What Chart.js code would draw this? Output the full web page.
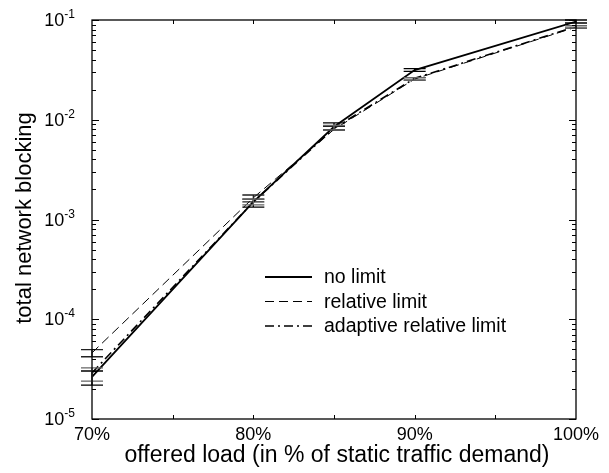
<!DOCTYPE html>
<html>
<head>
<meta charset="utf-8">
<script src="https://cdn.jsdelivr.net/npm/chart.js@4"></script>
<style>
html,body{margin:0;padding:0;background:#fff;}
#wrap{width:609px;height:473px;position:relative;}
</style>
</head>
<body>
<div id="wrap"><canvas id="c" width="609" height="473"></canvas></div>
<script>
// ---- data ----
const loads = [70, 80, 85, 90, 100];
const xTickLabels = ['70%', '80%', '90%', '100%'];
const yTickExponents = [-5, -4, -3, -2, -1];
const seriesNames = ['no limit', 'relative limit', 'adaptive relative limit'];
const noLimit   = [2.64e-5, 1.50e-3, 8.5e-3, 3.15e-2, 9.66e-2];
const relLimit  = [4.60e-5, 1.65e-3, 8.0e-3, 2.56e-2, 8.5e-2];
const adaptLimit= [2.90e-5, 1.50e-3, 8.2e-3, 2.60e-2, 8.6e-2];
const noLimitLo = [2.19e-5, 1.33e-3, 7.9e-3, 3.05e-2, 9.33e-2];
const noLimitHi = [3.03e-5, 1.60e-3, 9.3e-3, 3.26e-2, 1.00e-1];
const relLo     = [4.21e-5, 1.50e-3, 7.9e-3, 2.50e-2, 8.3e-2];
const relHi     = [4.95e-5, 1.76e-3, 8.6e-3, 2.65e-2, 8.8e-2];
const adaptLo   = [2.40e-5, 1.40e-3, 7.9e-3, 2.50e-2, 8.3e-2];
const adaptHi   = [3.25e-5, 1.60e-3, 8.8e-3, 2.65e-2, 8.8e-2];

const FONT = '"Liberation Sans", Arial, Helvetica, sans-serif';
const toPts = arr => loads.map((x, i) => ({x, y: arr[i]}));

const styles = [
  {w: 1.8, dash: []},
  {w: 1.0, dash: [9, 5]},
  {w: 1.6, dash: [9, 4, 2, 4]}
];
const errs = [[noLimitLo, noLimitHi, '#000'], [relLo, relHi, '#222'], [adaptLo, adaptHi, '#666']];

const decor = {
  id: 'decor',
  afterDatasetsDraw(chart) {
    const {ctx, chartArea: a, scales: {x, y}} = chart;
    ctx.save();
    // error bars
    errs.forEach(([lo, hi, col]) => {
      ctx.strokeStyle = col; ctx.lineWidth = 1.3; ctx.setLineDash([]);
      loads.forEach((l, i) => {
        const px = x.getPixelForValue(l);
        const y1 = y.getPixelForValue(lo[i]), y2 = y.getPixelForValue(hi[i]);
        ctx.beginPath();
        ctx.moveTo(px, y1); ctx.lineTo(px, y2);
        ctx.moveTo(px - 11, y1); ctx.lineTo(px + 11, y1);
        ctx.moveTo(px - 11, y2); ctx.lineTo(px + 11, y2);
        ctx.stroke();
      });
    });
    // frame
    ctx.strokeStyle = '#000'; ctx.lineWidth = 1.3;
    ctx.strokeRect(a.left, a.top, a.right - a.left, a.bottom - a.top);
    ctx.lineWidth = 1;
    // x ticks (every 5)
    for (let v = 75; v < 100; v += 5) {
      const px = Math.round(x.getPixelForValue(v)) + 0.5;
      ctx.beginPath();
      ctx.moveTo(px, a.bottom); ctx.lineTo(px, a.bottom - 4);
      ctx.moveTo(px, a.top); ctx.lineTo(px, a.top + 4);
      ctx.stroke();
    }
    // y ticks (log)
    for (let e = -5; e <= -1; e++) {
      for (let m = 1; m <= 9; m++) {
        const v = m * Math.pow(10, e);
        if (v > 0.1 * 1.0001) break;
        const py = Math.round(y.getPixelForValue(v)) + 0.5;
        const len = m === 1 ? 7 : 4;
        ctx.beginPath();
        ctx.moveTo(a.left, py); ctx.lineTo(a.left + len, py);
        ctx.moveTo(a.right, py); ctx.lineTo(a.right - len, py);
        ctx.stroke();
      }
    }
    // y tick labels with superscripts
    ctx.fillStyle = '#000';
    yTickExponents.forEach(e => {
      const py = y.getPixelForValue(Math.pow(10, e));
      ctx.font = '12px ' + FONT;
      const expTxt = String(e);
      const ew = ctx.measureText(expTxt).width;
      ctx.textAlign = 'left'; ctx.textBaseline = 'alphabetic';
      const expX = 75 - ew;
      ctx.fillText(expTxt, expX, py - 2);
      ctx.font = '18px ' + FONT;
      ctx.textAlign = 'right';
      ctx.fillText('10', expX, py + 6);
    });
    // x tick labels
    ctx.font = '18px ' + FONT;
    ctx.textAlign = 'center'; ctx.textBaseline = 'alphabetic';
    xTickLabels.forEach((t, i) => {
      const v = 70 + 10 * i;
      ctx.fillText(t, x.getPixelForValue(v), 440);
    });
    // axis titles
    ctx.font = '23px ' + FONT;
    ctx.fillText('offered load (in % of static traffic demand)', 337, 462);
    ctx.font = '22px ' + FONT;
    ctx.save();
    ctx.translate(31, 218);
    ctx.rotate(-Math.PI / 2);
    ctx.fillText('total network blocking', 0, 0);
    ctx.restore();
    // legend
    ctx.font = '19.5px ' + FONT;
    ctx.textAlign = 'left'; ctx.textBaseline = 'middle';
    seriesNames.forEach((n, i) => {
      const ly = 277 + 24.5 * i;
      ctx.strokeStyle = '#000';
      ctx.lineWidth = styles[i].w;
      ctx.setLineDash(styles[i].dash);
      ctx.beginPath(); ctx.moveTo(265, ly); ctx.lineTo(312, ly); ctx.stroke();
      ctx.setLineDash([]);
      ctx.fillText(n, 324, ly + 1);
    });
    ctx.restore();
  }
};

const datasets = [noLimit, relLimit, adaptLimit].map((arr, i) => ({
  label: seriesNames[i],
  data: toPts(arr),
  borderColor: '#000',
  borderWidth: styles[i].w,
  borderDash: styles[i].dash,
  pointRadius: 0,
  fill: false,
  tension: 0
}));

new Chart(document.getElementById('c'), {
  type: 'line',
  data: {datasets},
  options: {
    responsive: false,
    animation: false,
    layout: {padding: {top: 20, right: 33, left: 0, bottom: 0}},
    plugins: {legend: {display: false}, tooltip: {enabled: false}},
    scales: {
      x: {
        type: 'linear', min: 70, max: 100,
        grid: {display: false, drawTicks: false},
        border: {display: false},
        ticks: {display: false},
        afterFit(s) { s.height = 54; }
      },
      y: {
        type: 'logarithmic', min: 1e-5, max: 1e-1,
        grid: {display: false, drawTicks: false},
        border: {display: false},
        ticks: {display: false},
        afterFit(s) { s.width = 92; }
      }
    }
  },
  plugins: [decor]
});
</script>
</body>
</html>
